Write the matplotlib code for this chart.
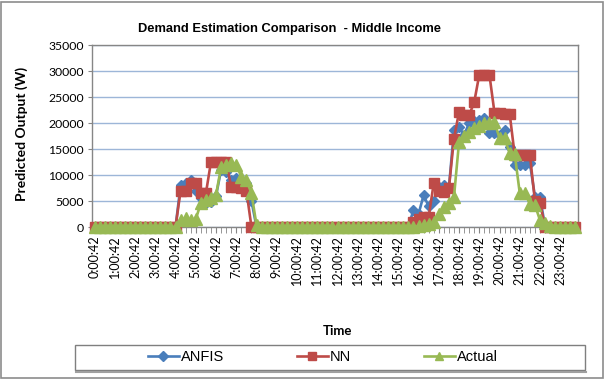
import matplotlib
matplotlib.use("Agg")
import matplotlib.pyplot as plt
from matplotlib.patches import Rectangle
from matplotlib.lines import Line2D
import numpy as np

# 15-minute categories from 0:00:42 to 23:45:42
times = [f"{h}:{m:02d}:42" for h in range(24) for m in (0, 15, 30, 45)]

anfis = [
    0, 0, 0, 0, 0, 0, 0, 0, 0, 0, 0, 0, 0, 0, 0, 0,            # 0-15
    0, 8000, 8500, 9000, 7000, 5500, 4600, 4800,               # 16-23
    6000, 11000, 10500, 9000, 9500, 9000, 8500, 5000,          # 24-31
    0, 0, 0, 0, 0, 0, 0, 0, 0, 0, 0, 0, 0, 0, 0, 0,            # 32-47
    0, 0, 0, 0, 0, 0, 0, 0, 0, 0, 0, 0, 0, 0, 0, 3300,         # 48-63
    2500, 6100, 4000, 5000, 7700, 8100, 7500, 18600,           # 64-71
    19200, 17700, 20000, 20300, 20600, 21000, 18100, 18000,    # 72-79
    17700, 18600, 15400, 11900, 11900, 12000, 12300, 5800,     # 80-87
    5800, 0, 0, 0, 0, 0, 0, 0,                                 # 88-95
]

nn = [
    0, 0, 0, 0, 0, 0, 0, 0, 0, 0, 0, 0, 0, 0, 0, 0,            # 0-15
    0, 7000, 7000, 8500, 8500, 6500, 6500, 12500,              # 16-23
    12500, 12500, 12500, 7700, 7700, 7500, 7000, 0,            # 24-31
    0, 0, 0, 0, 0, 0, 0, 0, 0, 0, 0, 0, 0, 0, 0, 0,            # 32-47
    0, 0, 0, 0, 0, 0, 0, 0, 0, 0, 0, 0, 0, 0, 0, 1000,         # 48-63
    1500, 1900, 1900, 8400, 7000, 6700, 7500, 17000,           # 64-71
    22100, 21500, 21500, 24000, 29300, 29300, 29300, 22000,    # 72-79
    22000, 21800, 21800, 13800, 13800, 13800, 13800, 5000,     # 80-87
    4600, 0, 0, 0, 0, 0, 0, 0,                                 # 88-95
]

actual = [
    0, 0, 0, 0, 0, 0, 0, 0, 0, 0, 0, 0, 0, 0, 0, 0,            # 0-15
    0, 1300, 1700, 1300, 1500, 4600, 5200, 5600,               # 16-23
    6200, 11500, 12000, 12300, 12000, 9600, 9000, 6500,        # 24-31
    300, 0, 0, 0, 0, 0, 0, 0, 0, 0, 0, 0, 0, 0, 0, 0,          # 32-47
    0, 0, 0, 0, 0, 0, 0, 0, 0, 0, 0, 0, 0, 0, 0, 0,            # 48-63
    200, 300, 500, 1000, 2500, 3800, 4600, 5800,               # 64-71
    16300, 17500, 18300, 19000, 19400, 20000, 20000, 20200,    # 72-79
    17100, 17100, 14200, 14000, 6500, 6500, 4400, 4200,        # 80-87
    1300, 800, 200, 0, 0, 0, 0, 0,                             # 88-95
]

series_names = ["ANFIS", "NN", "Actual"]
colors = ["#4A7EBB", "#BE4B48", "#98B954"]
markers = ["D", "s", "^"]
msizes = [5.5, 7.5, 8.0]

W, H = 605, 379
fig = plt.figure(figsize=(W / 100, H / 100), dpi=100)
ax = fig.add_axes([92 / W, 1 - 227 / H, (578 - 92) / W, (227 - 45) / H])

x = np.arange(len(times))
handles = []
for name, data, c, m, ms in zip(series_names, [anfis, nn, actual], colors, markers, msizes):
    h, = ax.plot(x, data, color=c, marker=m, markersize=ms, linewidth=1.9,
                 markeredgecolor=c, label=name, clip_on=False, zorder=3)
    handles.append(h)

ax.set_xlim(-0.5, len(times) - 0.5)
ax.set_ylim(0, 35000)
ax.set_yticks(np.arange(0, 35001, 5000))
ax.yaxis.grid(True, color="#9DB6D8", linewidth=1.0)
ax.set_axisbelow(True)

major = list(range(0, len(times), 4))
ax.set_xticks(major)
ax.set_xticklabels([times[i] for i in major], rotation=90, fontfamily="Lato", fontsize=9)
ax.set_xticks([i for i in range(len(times)) if i % 4 != 0], minor=True)
ax.tick_params(axis="x", which="both", length=4, color="#868686", direction="out", pad=2)
ax.tick_params(axis="y", length=3, color="#868686", labelsize=8.8, pad=3)
for lab in ax.get_yticklabels():
    lab.set_fontfamily("Lato")

for s in ax.spines.values():
    s.set_color("#868686")
    s.set_linewidth(1.0)

fig.text(289 / W, 1 - 29 / H, "Demand Estimation Comparison  - Middle Income",
         ha="center", va="center", fontsize=9.3, fontweight="bold", fontfamily="Liberation Sans")
fig.text(22 / W, 1 - 134 / H, "Predicted Output (W)", rotation=90, ha="center", va="center",
         fontsize=10, fontweight="bold", fontfamily="Lato")
fig.text(337 / W, 1 - 331 / H, "Time", ha="center", va="center",
         fontsize=9.5, fontweight="bold", fontfamily="Lato")

# legend box
fig.add_artist(Rectangle((75 / W, 1 - 370 / H), (585 - 75) / W, 25 / H,
                         transform=fig.transFigure, fill=False, edgecolor="#7F7F7F", linewidth=1.0))
fig.add_artist(Line2D([76 / W, 586 / W], [1 - 372 / H, 1 - 372 / H], transform=fig.transFigure,
                      color="#A0A0A0", linewidth=1.5))
leg = fig.legend(handles=handles, loc="center", bbox_to_anchor=(323 / W, 1 - 357 / H), ncol=3,
                 frameon=False, prop={"family": "Liberation Sans", "size": 10.5},
                 columnspacing=5.0, handlelength=2.1, handletextpad=0.15, borderaxespad=0)
for lh in leg.legend_handles:
    lh.set_markersize(5.5)

# outer chart border
fig.add_artist(Rectangle((1 / W, 1 / H), (W - 3) / W, (H - 3) / H, transform=fig.transFigure,
                         fill=False, edgecolor="#8C8C8C", linewidth=1.2))

fig.savefig("out.png", dpi=100)
